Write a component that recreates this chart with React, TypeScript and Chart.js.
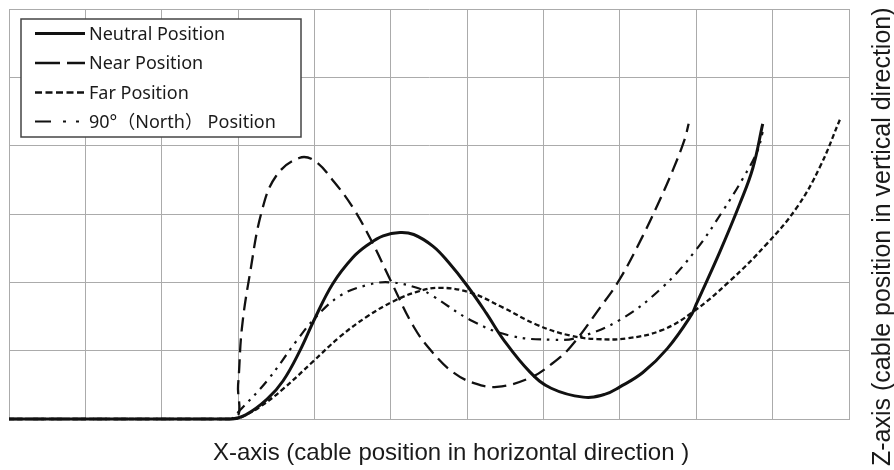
import React, { useEffect, useRef } from 'react';
import { Chart, registerables } from 'chart.js';

Chart.register(...registerables);

// ---- data ----
const seriesNames = ['Neutral Position', 'Near Position', 'Far Position', '90°（North） Position'];

const neutralX = [0, 1, 2, 2.9, 3.1, 3.38, 3.59, 3.81, 4.0, 4.24, 4.5, 4.7, 4.9, 5.12, 5.3, 5.55, 5.75, 6.0, 6.25, 6.47, 6.82, 7.1, 7.52, 7.8, 8.0, 8.3, 8.62, 8.94, 9.0, 9.31, 9.57, 9.74, 9.87];
const neutralY = [0, 0, 0, 0, 0.06, 0.29, 0.56, 1.0, 1.46, 1.98, 2.36, 2.55, 2.68, 2.73, 2.7, 2.53, 2.3, 1.95, 1.55, 1.17, 0.69, 0.45, 0.32, 0.36, 0.47, 0.68, 1.03, 1.53, 1.68, 2.45, 3.15, 3.67, 4.32];

const nearX = [0, 1, 2, 2.95, 3.0, 3.05, 3.16, 3.31, 3.5, 3.8, 4.0, 4.25, 4.5, 4.75, 5.0, 5.3, 5.55, 5.82, 6.1, 6.39, 6.82, 7.1, 7.35, 7.74, 8.0, 8.3, 8.5, 8.7, 8.85, 8.9];
const nearY = [0, 0, 0, 0, 0.5, 1.33, 2.16, 3.04, 3.56, 3.82, 3.78, 3.48, 3.1, 2.6, 2.02, 1.35, 0.97, 0.68, 0.52, 0.47, 0.6, 0.8, 1.05, 1.63, 2.05, 2.68, 3.15, 3.66, 4.1, 4.32];

const farX = [0, 1, 2, 2.95, 3.1, 3.29, 3.59, 3.98, 4.33, 4.69, 5.03, 5.34, 5.64, 6.04, 6.47, 6.91, 7.35, 7.7, 8.09, 8.55, 8.96, 9.44, 9.93, 10.32, 10.62, 10.88];
const farY = [0, 0, 0, 0, 0.06, 0.18, 0.44, 0.84, 1.2, 1.5, 1.72, 1.86, 1.92, 1.85, 1.63, 1.38, 1.22, 1.17, 1.18, 1.3, 1.57, 2.02, 2.57, 3.1, 3.69, 4.38];

const northX = [0, 1, 2, 2.9, 3.0, 3.38, 3.77, 4.01, 4.33, 4.69, 4.99, 5.34, 5.55, 6.04, 6.56, 7.12, 7.44, 8.0, 8.55, 9.0, 9.35, 9.61, 9.8, 9.87];
const northY = [0, 0, 0, 0, 0.1, 0.56, 1.15, 1.48, 1.8, 1.96, 2.0, 1.92, 1.8, 1.45, 1.22, 1.16, 1.19, 1.45, 1.92, 2.48, 3.05, 3.52, 3.92, 4.2];

const xAxisTitle = 'X-axis (cable position in horizontal direction )';
const zAxisTitle = 'Z-axis (cable position in vertical direction)';
const xMin = 0;
const xMax = 11;
const yMin = 0;
const yMax = 6;

// ---- styles ----
const lineStyles = [
  { width: 3, dash: [] as number[], legendDash: [] as number[] },
  { width: 2.3, dash: [14, 7], legendDash: [25, 7] },
  { width: 2.3, dash: [5, 3], legendDash: [7, 3.5] },
  { width: 2.2, dash: [10, 6, 2.5, 6, 2.5, 6], legendDash: [16, 12, 3, 10, 3, 100] },
];

const toPoints = (xs: number[], ys: number[]) => xs.map((x, i) => ({ x, y: ys[i] }));

const customDrawing = {
  id: 'customDrawing',
  afterDraw(chart: any) {
    const ctx = chart.ctx as CanvasRenderingContext2D;
    ctx.save();
    // legend box
    const bx = 21, by = 19, bw = 280, bh = 118;
    ctx.fillStyle = '#ffffff';
    ctx.fillRect(bx, by, bw, bh);
    ctx.strokeStyle = '#444444';
    ctx.lineWidth = 1.5;
    ctx.setLineDash([]);
    ctx.strokeRect(bx, by, bw, bh);
    const rows = [33.5, 63, 92.5, 121.5];
    chart.data.datasets.forEach((ds: any, i: number) => {
      const y = rows[i];
      ctx.strokeStyle = '#111111';
      ctx.lineWidth = lineStyles[i].width;
      ctx.setLineDash(lineStyles[i].legendDash);
      ctx.lineCap = 'butt';
      ctx.beginPath();
      ctx.moveTo(35, y);
      ctx.lineTo(85, y);
      ctx.stroke();
      ctx.setLineDash([]);
      ctx.fillStyle = '#1a1a1a';
      ctx.font = '18px "Noto Sans", "Noto Sans CJK JP", sans-serif';
      ctx.textAlign = 'left';
      ctx.textBaseline = 'middle';
      ctx.fillText(ds.label, 89, y + 1);
    });
    // x axis title
    ctx.fillStyle = '#1a1a1a';
    ctx.font = '24px "Liberation Sans", Arial, sans-serif';
    ctx.textAlign = 'left';
    ctx.textBaseline = 'alphabetic';
    ctx.fillText(xAxisTitle, 213, 460);
    // z axis title (vertical, bottom to top)
    ctx.translate(890, 466);
    ctx.rotate(-Math.PI / 2);
    ctx.font = '25px "Liberation Sans", Arial, sans-serif';
    ctx.fillText(zAxisTitle, 0, 0);
    ctx.restore();
  },
};

export default function App() {
  const canvasRef = useRef<HTMLCanvasElement | null>(null);

  useEffect(() => {
    if (!canvasRef.current) return;
    const seriesX = [neutralX, nearX, farX, northX];
    const seriesY = [neutralY, nearY, farY, northY];
    const chart = new Chart(canvasRef.current, {
      type: 'line',
      data: {
        datasets: seriesNames.map((name, i) => ({
          label: name,
          data: toPoints(seriesX[i], seriesY[i]),
          borderColor: '#111111',
          borderWidth: lineStyles[i].width,
          borderDash: lineStyles[i].dash,
          borderCapStyle: 'butt',
          borderJoinStyle: 'round',
          pointRadius: 0,
          fill: false,
          tension: 0.4,
          clip: false,
        })),
      },
      options: {
        responsive: false,
        animation: false,
        layout: { padding: { left: 9, top: 9, right: 45, bottom: 51 } },
        plugins: { legend: { display: false }, tooltip: { enabled: false } },
        scales: {
          x: {
            type: 'linear',
            min: xMin,
            max: xMax,
            ticks: { display: false, stepSize: 1 },
            grid: { color: '#ababab', lineWidth: 1, drawTicks: false },
            border: { color: '#ababab', width: 1 },
          },
          y: {
            type: 'linear',
            min: yMin,
            max: yMax,
            ticks: { display: false, stepSize: 1 },
            grid: { color: '#ababab', lineWidth: 1, drawTicks: false },
            border: { color: '#ababab', width: 1 },
          },
        },
      },
      plugins: [customDrawing],
    } as any);
    return () => chart.destroy();
  }, []);

  return (
    <div style={{ position: 'absolute', left: 0, top: 0, width: 894, height: 470, background: '#fff' }}>
      <canvas ref={canvasRef} width={894} height={470} style={{ display: 'block' }} />
    </div>
  );
}
